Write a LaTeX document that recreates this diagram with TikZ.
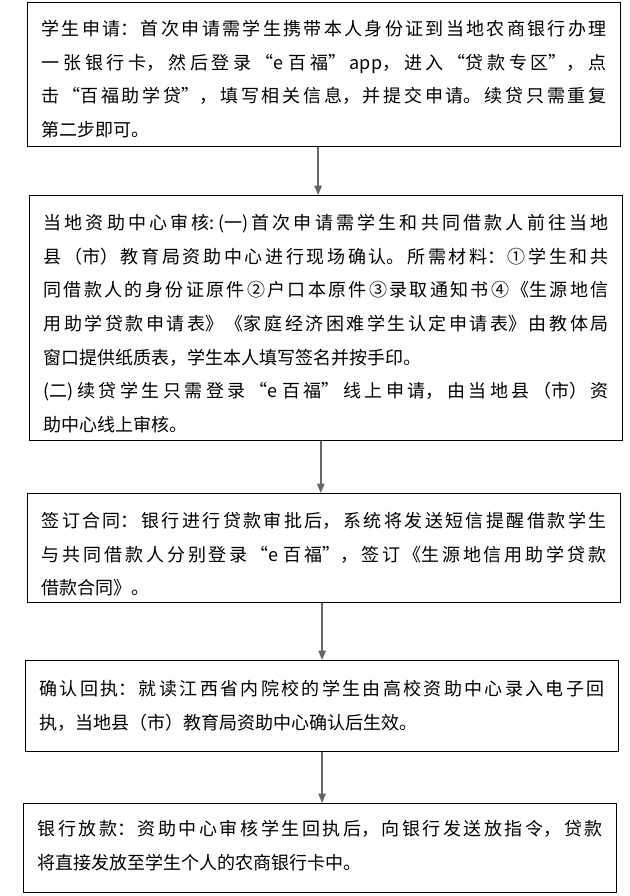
\documentclass[tikz,border=0pt]{standalone}
\usepackage{fontspec}
\setmainfont{Noto Sans CJK SC}
\usetikzlibrary{arrows.meta}
\XeTeXlinebreaklocale "zh"
\XeTeXlinebreakskip=0pt plus 6pt
\setlength{\parindent}{0pt}
\setlength{\parskip}{0pt}

\tikzset{every picture/.style={line width=0.75pt}}
\tikzset{
  flowbox/.style={draw={rgb, 255:red, 0; green, 0; blue, 0 }, line width=0.9pt, anchor=north west,
    inner xsep=10.5pt, inner ysep=0pt, text width=423.75pt, align=justify,
    font=\fontsize{13.5pt}{25.25pt}\selectfont},
  flowarrow/.style={draw={rgb, 255:red, 102; green, 102; blue, 102 }, line width=1.1pt,
    -{Triangle[width=5.5pt,length=7pt]}}
}

\begin{document}
\begin{tikzpicture}[x=0.75pt,y=0.75pt,yscale=-1,xscale=1]
\useasboundingbox (0,0) rectangle (630,896);

%Shape: Rectangle [id:apply] 
\node (apply) [flowbox, text height=24.75pt, text depth=83.25pt] at (27,2) {学生申请：首次申请需学生携带本人身份证到当地农商银行办理\linebreak
一张银行卡，然后登录“e 百福”app，进入“贷款专区”，点\linebreak
击“百福助学贷”，填写相关信息，并提交申请。续贷只需重复\linebreak
第二步即可。};
%Shape: Rectangle [id:review] 
\node (review) [flowbox, text height=25.5pt, text depth=158.25pt] at (29,195) {当地资助中心审核:(一)首次申请需学生和共同借款人前往当地\linebreak
县（市）教育局资助中心进行现场确认。所需材料：①学生和共\linebreak
同借款人的身份证原件②户口本原件③录取通知书④《生源地信\linebreak
用助学贷款申请表》《家庭经济困难学生认定申请表》由教体局\linebreak
窗口提供纸质表，学生本人填写签名并按手印。\par
(二)续贷学生只需登录“e 百福”线上申请，由当地县（市）资\linebreak
助中心线上审核。};
%Shape: Rectangle [id:contract] 
\node (contract) [flowbox, text height=25.5pt, text depth=56.25pt] at (27,493) {签订合同：银行进行贷款审批后，系统将发送短信提醒借款学生\linebreak
与共同借款人分别登录“e 百福”，签订《生源地信用助学贷款\linebreak
借款合同》。};
%Shape: Rectangle [id:receipt] 
\node (receipt) [flowbox, text height=26.25pt, text depth=42pt] at (25,660) {确认回执：就读江西省内院校的学生由高校资助中心录入电子回\linebreak
执，当地县（市）教育局资助中心确认后生效。};
%Shape: Rectangle [id:payout] 
\node (payout) [flowbox, text height=24pt, text depth=42.75pt] at (23,803) {银行放款：资助中心审核学生回执后，向银行发送放指令，贷款\linebreak
将直接发放至学生个人的农商银行卡中。};

%Straight Lines [id:arrows] 
\draw [flowarrow] ([xshift=-4.5pt]apply.south) -- ([xshift=-4.5pt]apply.south |- review.north) ;
\draw [flowarrow] ([xshift=-4pt]review.south) -- ([xshift=-4pt]review.south |- contract.north) ;
\draw [flowarrow] ([xshift=-1.5pt]contract.south) -- ([xshift=-1.5pt]contract.south |- receipt.north) ;
\draw [flowarrow] (receipt.south) -- (receipt.south |- payout.north) ;

\end{tikzpicture}
\end{document}
